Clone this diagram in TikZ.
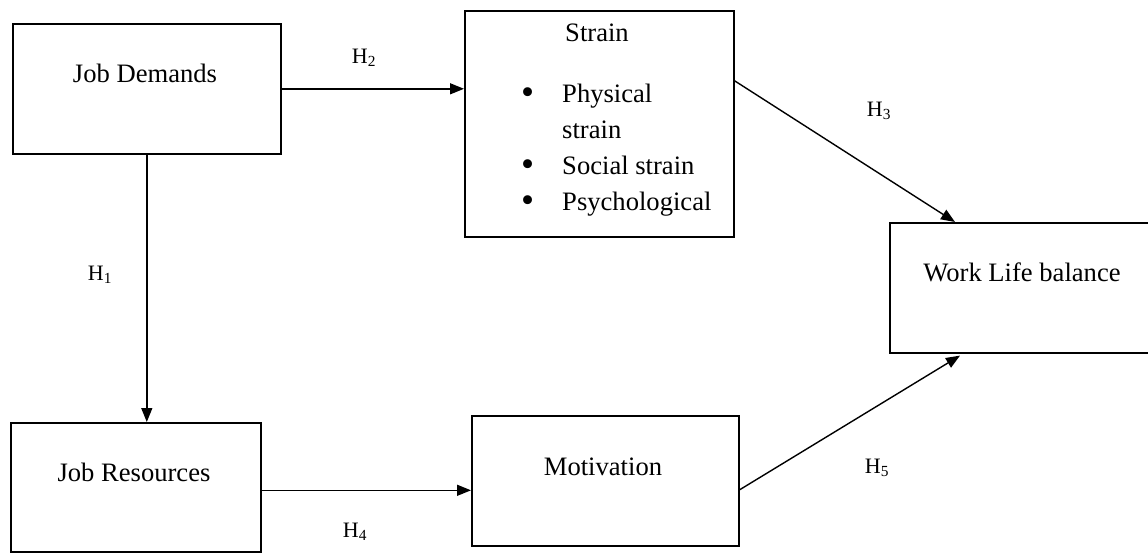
\documentclass[tikz,border=0pt]{standalone}
\usepackage{fontspec}
\setmainfont{Liberation Serif}
\usetikzlibrary{arrows.meta,calc}

\newcommand{\bigdot}{\raisebox{-2.5pt}{\scalebox{1.4}{\textbullet}}}

\tikzset{
  box/.style={draw, line width=1.6pt, inner sep=0pt, anchor=north west},
  txt/.style={font=\fontsize{26.6}{36}\selectfont, inner sep=0pt},
  hyp/.style={font=\fontsize{22}{26}\selectfont, inner sep=0pt},
  link/.style={line width=1.4pt, -{Triangle[length=14pt,width=11pt]}},
}

\begin{document}
\begin{tikzpicture}[x=1pt, y=-1pt]
  \useasboundingbox (0,0) rectangle (1148,552);

  % boxes
  \node[box, minimum width=268pt, minimum height=130pt] (jd) at (12,23) {};
  \node[box, minimum width=269pt, minimum height=226pt] (strain) at (464,10) {};
  \node[box, minimum width=264pt, minimum height=130pt] (wlb) at (889,222) {};
  \node[box, minimum width=250pt, minimum height=129pt] (jr) at (10,422) {};
  \node[box, minimum width=267pt, minimum height=130pt] (mot) at (471,415) {};

  % box texts
  \node[txt] (jdtext) at (145,73) {Job Demands};
  \node[txt] (strtitle) at (597,33) {Strain};
  \node[txt, anchor=base west] (strlist) at (521,102) {%
    \begin{tabular}[t]{@{}l@{\hspace{28pt}}l@{}}
      \bigdot & Physical\\
              & strain\\
      \bigdot & Social strain\\
      \bigdot & Psychological
    \end{tabular}};
  \node[txt] (wlbtext) at (1022,272) {Work Life balance};
  \node[txt] (jrtext) at (134,472) {Job Resources};
  \node[txt] (mottext) at (603,467) {Motivation};

  % hypothesis paths
  \draw[link] (jd.east) -- (jd.east -| strain.west);
  \draw[link] (jd.south) -- (jd.south |- jr.north);
  \draw[link] ([yshift=43pt]strain.east) -- ($(wlb.north west)+(66,0)$);
  \draw[link] ([yshift=-3pt]jr.east) -- ([yshift=-3pt]jr.east -| mot.west);
  \draw[link] ([yshift=-9pt]mot.east) -- ($(wlb.south west)+(71,2)$);

  % hypothesis labels
  \node[hyp] (h1) at (100,275) {H\textsubscript{1}};
  \node[hyp] (h2) at (364,58) {H\textsubscript{2}};
  \node[hyp] (h3) at (879,111) {H\textsubscript{3}};
  \node[hyp] (h4) at (355,532) {H\textsubscript{4}};
  \node[hyp] (h5) at (877,468) {H\textsubscript{5}};
\end{tikzpicture}
\end{document}
